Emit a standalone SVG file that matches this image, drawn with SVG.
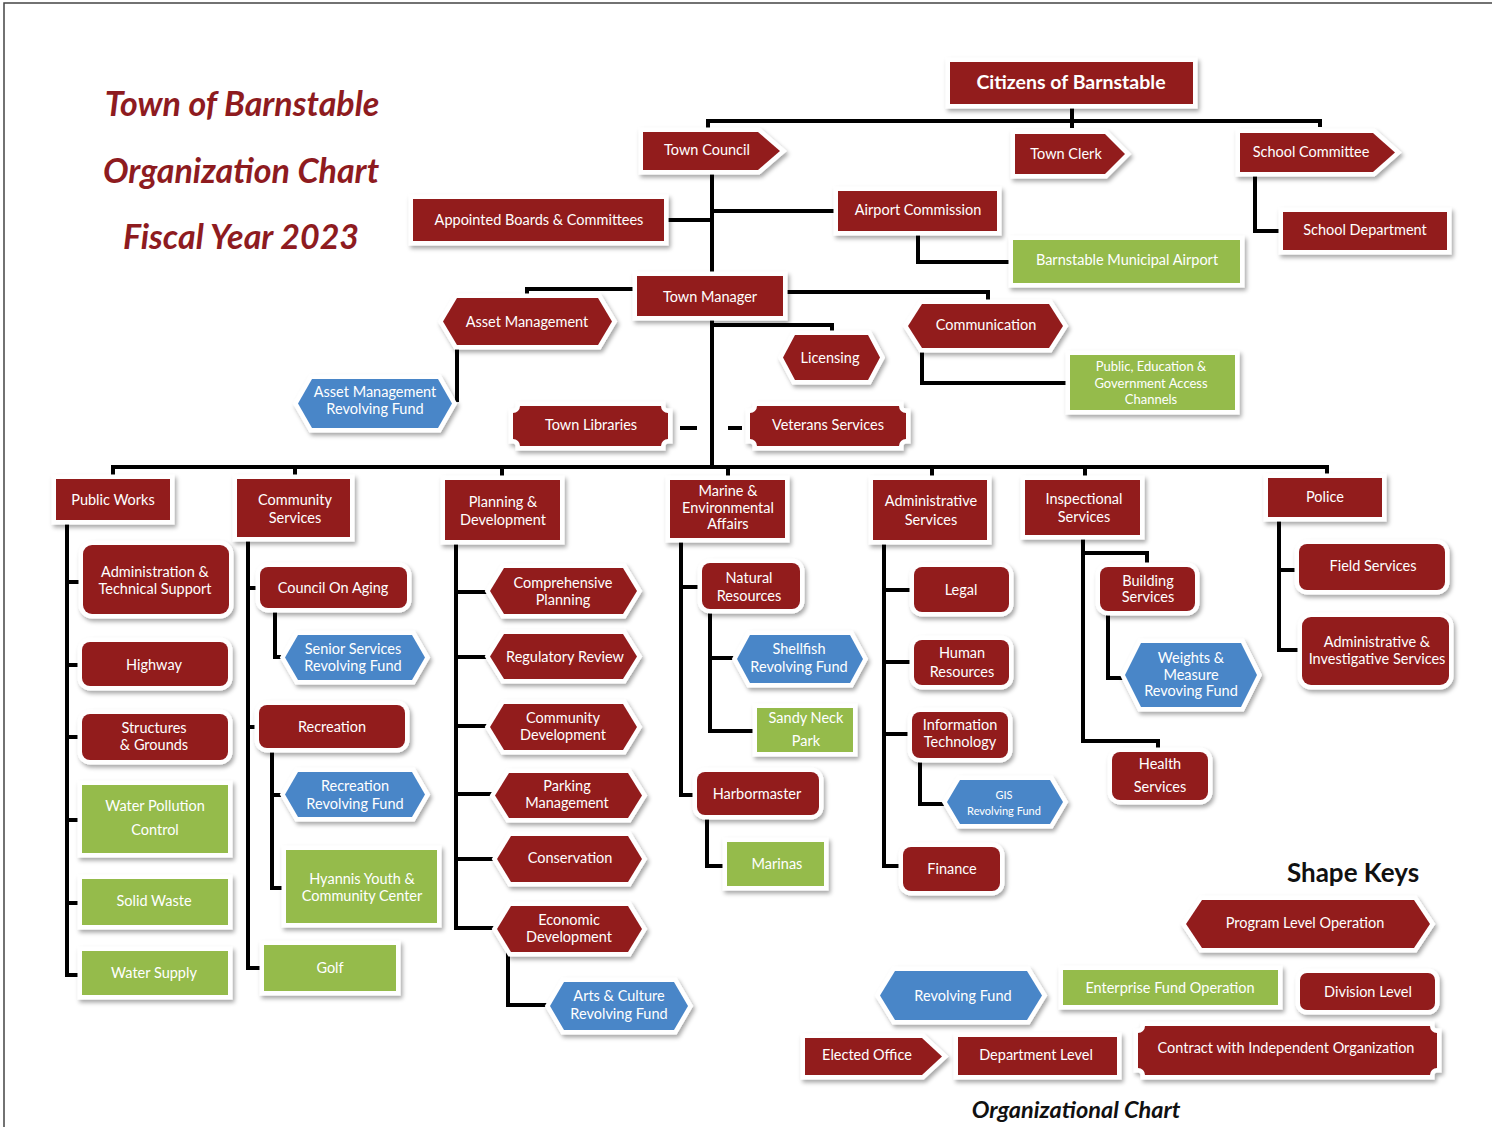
<svg xmlns="http://www.w3.org/2000/svg" width="1492" height="1127" viewBox="0 0 1492 1127">
<defs>
<filter id="sh" x="-10%" y="-20%" width="130%" height="160%">
<feDropShadow dx="2" dy="3" stdDeviation="2.2" flood-color="#000" flood-opacity="0.35"/>
</filter>
<style>
.n{stroke:#fff;stroke-width:9;paint-order:stroke;filter:url(#sh);stroke-linejoin:miter}
.r{fill:#921c1f}
.g{fill:#95bb4b}
.b{fill:#4a86c8}
.t{font-family:Lato,"Open Sans",sans-serif;font-size:14.5px;fill:#fff;text-anchor:middle}
.s{font-size:13px}
.c{fill:none;stroke:#000;stroke-width:4;stroke-linejoin:miter;stroke-linecap:butt}
.ti{font-family:Lato,"Liberation Sans",sans-serif;font-weight:bold;font-style:italic;font-size:34px;fill:#8e1b1f;text-anchor:middle}
</style>
</defs>
<rect width="1492" height="1127" fill="#fff"/>
<path d="M4,1127 V3 H1492" fill="none" stroke="#444" stroke-width="1.5"/>

<g id="title">
<text class="ti" x="242" y="116">Town of Barnstable</text>
<text class="ti" x="241" y="183">Organization Chart</text>
<text class="ti" x="241" y="249">Fiscal Year 2023</text>
</g>

<g id="connectors">
<path class="c" d="M1072,104 V128 M708,131 V121 H1320 V127"/>
<path class="c" d="M1255,172 V231 H1283"/>
<path class="c" d="M712,170 V276 M668,220 H712 M712,211 H838"/>
<path class="c" d="M918,231 V262 H1013"/>
<path class="c" d="M637,289 H527 V298"/>
<path class="c" d="M457,347 V402"/>
<path class="c" d="M783,292 H988 V303"/>
<path class="c" d="M712,325 H832 V335"/>
<path class="c" d="M712,316 V467"/>
<path class="c" d="M922,348 V383 H1070"/>
<path class="c" d="M680,428 H697 M728,428 H742"/>
<path class="c" d="M113,479 V467 H1327 V479 M295,467 V479 M502,467 V480 M728,467 V480 M932,467 V480 M1085,467 V480"/>
<path class="c" d="M67,520 V975 H82 M67,582 H83 M67,665 H82 M67,737 H82 M67,820 H82 M67,903 H82"/>
<path class="c" d="M248,537 V968 H264 M248,588 H260 M248,727 H259"/>
<path class="c" d="M275,608 V657 H287 M272,748 V888 H286 M272,795 H287"/>
<path class="c" d="M456,540 V928 H497 M456,592 H490 M456,657 H490 M456,726 H490 M456,794 H495 M456,859 H497"/>
<path class="c" d="M508,952 V1005 H550"/>
<path class="c" d="M681,538 V795 H697 M681,587 H702 M710,609 V731 H757 M710,658 H737"/>
<path class="c" d="M707,815 V866 H727"/>
<path class="c" d="M884,540 V866 H903 M884,590 H914 M884,662 H914 M884,734 H912"/>
<path class="c" d="M920,758 V804 H947"/>
<path class="c" d="M1083,535 V741 H1158 V752 M1083,553 H1147 V567"/>
<path class="c" d="M1108,611 V678 H1125"/>
<path class="c" d="M1279,517 V650 H1302 M1279,570 H1299"/>
</g>

<g id="citizens"><rect class="n r" x="950" y="62" width="243" height="42"/><text class="t" x="1071" y="89" style="font-size:19.5px;font-weight:bold">Citizens of Barnstable</text></g>
<g id="town-council"><polygon class="n r" points="643,132 758,132 780,151 758,170 643,170"/><text class="t" x="707" y="155">Town Council</text></g>
<g id="town-clerk"><polygon class="n r" points="1015,134 1105,134 1125,154 1105,174 1015,174"/><text class="t" x="1066" y="159">Town Clerk</text></g>
<g id="school-committee"><polygon class="n r" points="1240,133 1373,133 1395,152.5 1373,172 1240,172"/><text class="t" x="1311" y="157">School Committee</text></g>
<g id="school-department"><rect class="n r" x="1283" y="212" width="164" height="38"/><text class="t" x="1365" y="235">School Department</text></g>
<g id="appointed-boards"><rect class="n r" x="413" y="199" width="251" height="42"/><text class="t" x="539" y="225">Appointed Boards &amp; Committees</text></g>
<g id="airport-commission"><rect class="n r" x="838" y="191" width="159" height="40"/><text class="t" x="918" y="215">Airport Commission</text></g>
<g id="municipal-airport"><rect class="n g" x="1013" y="240" width="227" height="43"/><text class="t" x="1127" y="265">Barnstable Municipal Airport</text></g>
<g id="town-manager"><rect class="n r" x="637" y="276" width="146" height="40"/><text class="t" x="710" y="302">Town Manager</text></g>
<g id="asset-management"><polygon class="n r" points="443,321.5 457,298 598,298 612,321.5 598,345 457,345"/><text class="t" x="527" y="327">Asset Management</text></g>
<g id="asset-rf"><polygon class="n b" points="298,403.5 312,379 438,379 452,403.5 438,428 312,428"/><text class="t" x="375" y="397">Asset Management</text><text class="t" x="375" y="414">Revolving Fund</text></g>
<g id="communication"><polygon class="n r" points="908,326 922,304 1049,304 1063,326 1049,348 922,348"/><text class="t" x="986" y="330">Communication</text></g>
<g id="peg-channels"><rect class="n g" x="1070" y="355" width="165" height="55"/><text class="t s" x="1151" y="371">Public, Education &amp;</text><text class="t s" x="1151" y="388">Government Access</text><text class="t s" x="1151" y="404">Channels</text></g>
<g id="licensing"><polygon class="n r" points="783,357.5 795,335 868,335 880,357.5 868,380 795,380"/><text class="t" x="830" y="363">Licensing</text></g>
<g id="town-libraries"><path class="n r" d="M520,406 H661 A7,7 0 0 0 668,413 V439 A7,7 0 0 0 661,446 H520 A7,7 0 0 0 513,439 V413 A7,7 0 0 0 520,406 Z"/><text class="t" x="591" y="430">Town Libraries</text></g>
<g id="veterans-services"><path class="n r" d="M757,406 H899 A7,7 0 0 0 906,413 V439 A7,7 0 0 0 899,446 H757 A7,7 0 0 0 750,439 V413 A7,7 0 0 0 757,406 Z"/><text class="t" x="828" y="430">Veterans Services</text></g>

<g id="public-works"><rect class="n r" x="56" y="479" width="114" height="41"/><text class="t" x="113" y="505">Public Works</text></g>
<g id="community-services"><rect class="n r" x="237" y="479" width="113" height="58"/><text class="t" x="295" y="505">Community</text><text class="t" x="295" y="523">Services</text></g>
<g id="planning-development"><rect class="n r" x="445" y="480" width="115" height="60"/><text class="t" x="503" y="507">Planning &amp;</text><text class="t" x="503" y="525">Development</text></g>
<g id="marine-environmental"><rect class="n r" x="670" y="480" width="115" height="58"/><text class="t" x="728" y="496">Marine &amp;</text><text class="t" x="728" y="513">Environmental</text><text class="t" x="728" y="529">Affairs</text></g>
<g id="administrative-services"><rect class="n r" x="873" y="480" width="114" height="60"/><text class="t" x="931" y="506">Administrative</text><text class="t" x="931" y="525">Services</text></g>
<g id="inspectional-services"><rect class="n r" x="1025" y="480" width="115" height="55"/><text class="t" x="1084" y="504">Inspectional</text><text class="t" x="1084" y="522">Services</text></g>
<g id="police"><rect class="n r" x="1268" y="478" width="114" height="39"/><text class="t" x="1325" y="502">Police</text></g>

<g id="admin-technical"><rect class="n r" x="83" y="545" width="146" height="69" rx="9"/><text class="t" x="155" y="577">Administration &amp;</text><text class="t" x="155" y="594">Technical Support</text></g>
<g id="highway"><rect class="n r" x="82" y="642" width="146" height="44" rx="8"/><text class="t" x="154" y="670">Highway</text></g>
<g id="structures-grounds"><rect class="n r" x="82" y="714" width="146" height="46" rx="8"/><text class="t" x="154" y="733">Structures</text><text class="t" x="154" y="750">&amp; Grounds</text></g>
<g id="water-pollution"><rect class="n g" x="82" y="785" width="146" height="68"/><text class="t" x="155" y="811">Water Pollution</text><text class="t" x="155" y="835">Control</text></g>
<g id="solid-waste"><rect class="n g" x="82" y="879" width="146" height="46"/><text class="t" x="154" y="906">Solid Waste</text></g>
<g id="water-supply"><rect class="n g" x="82" y="951" width="146" height="44"/><text class="t" x="154" y="978">Water Supply</text></g>

<g id="council-on-aging"><rect class="n r" x="260" y="567" width="147" height="41" rx="8"/><text class="t" x="333" y="593">Council On Aging</text></g>
<g id="senior-rf"><polygon class="n b" points="285,657.5 298,635 412,635 425,657.5 412,680 298,680"/><text class="t" x="353" y="654">Senior Services</text><text class="t" x="353" y="671">Revolving Fund</text></g>
<g id="recreation"><rect class="n r" x="259" y="705" width="146" height="43" rx="8"/><text class="t" x="332" y="732">Recreation</text></g>
<g id="recreation-rf"><polygon class="n b" points="285,794.5 298,772 412,772 425,794.5 412,817 298,817"/><text class="t" x="355" y="791">Recreation</text><text class="t" x="355" y="809">Revolving Fund</text></g>
<g id="hyannis-youth"><rect class="n g" x="286" y="850" width="151" height="73"/><text class="t" x="362" y="884">Hyannis Youth &amp;</text><text class="t" x="362" y="901">Community Center</text></g>
<g id="golf"><rect class="n g" x="264" y="945" width="132" height="46"/><text class="t" x="330" y="973">Golf</text></g>

<g id="comprehensive-planning"><polygon class="n r" points="490,591 504,568 623,568 637,591 623,614 504,614"/><text class="t" x="563" y="588">Comprehensive</text><text class="t" x="563" y="605">Planning</text></g>
<g id="regulatory-review"><polygon class="n r" points="490,656.5 504,634 623,634 637,656.5 623,679 504,679"/><text class="t" x="565" y="662">Regulatory Review</text></g>
<g id="community-development"><polygon class="n r" points="490,727 504,704 623,704 637,727 623,750 504,750"/><text class="t" x="563" y="723">Community</text><text class="t" x="563" y="740">Development</text></g>
<g id="parking-management"><polygon class="n r" points="495,795.5 509,773 628,773 642,795.5 628,818 509,818"/><text class="t" x="567" y="791">Parking</text><text class="t" x="567" y="808">Management</text></g>
<g id="conservation"><polygon class="n r" points="497,859 511,836 628,836 642,859 628,882 511,882"/><text class="t" x="570" y="863">Conservation</text></g>
<g id="economic-development"><polygon class="n r" points="497,929 511,906 628,906 642,929 628,952 511,952"/><text class="t" x="569" y="925">Economic</text><text class="t" x="569" y="942">Development</text></g>
<g id="arts-culture-rf"><polygon class="n b" points="550,1006 564,982 674,982 688,1006 674,1030 564,1030"/><text class="t" x="619" y="1001">Arts &amp; Culture</text><text class="t" x="619" y="1019">Revolving Fund</text></g>

<g id="natural-resources"><rect class="n r" x="702" y="563" width="98" height="46" rx="8"/><text class="t" x="749" y="583">Natural</text><text class="t" x="749" y="601">Resources</text></g>
<g id="shellfish-rf"><polygon class="n b" points="737,659 750,635 850,635 863,659 850,683 750,683"/><text class="t" x="799" y="654">Shellfish</text><text class="t" x="799" y="672">Revolving Fund</text></g>
<g id="sandy-neck"><rect class="n g" x="757" y="708" width="96" height="44"/><text class="t" x="806" y="723">Sandy Neck</text><text class="t" x="806" y="746">Park</text></g>
<g id="harbormaster"><rect class="n r" x="697" y="772" width="122" height="43" rx="8"/><text class="t" x="757" y="799">Harbormaster</text></g>
<g id="marinas"><rect class="n g" x="727" y="842" width="97" height="44"/><text class="t" x="777" y="869">Marinas</text></g>

<g id="legal"><rect class="n r" x="914" y="567" width="95" height="45" rx="8"/><text class="t" x="961" y="595">Legal</text></g>
<g id="human-resources"><rect class="n r" x="914" y="640" width="95" height="45" rx="8"/><text class="t" x="962" y="658">Human</text><text class="t" x="962" y="677">Resources</text></g>
<g id="information-technology"><rect class="n r" x="912" y="712" width="96" height="46" rx="8"/><text class="t" x="960" y="730">Information</text><text class="t" x="960" y="747">Technology</text></g>
<g id="gis-rf"><polygon class="n b" points="947,802 960,780 1050,780 1063,802 1050,824 960,824"/><text class="t" x="1004" y="799" style="font-size:11px">GIS</text><text class="t" x="1004" y="815" style="font-size:11px">Revolving  Fund</text></g>
<g id="finance"><rect class="n r" x="903" y="847" width="97" height="44" rx="8"/><text class="t" x="952" y="874">Finance</text></g>

<g id="building-services"><rect class="n r" x="1100" y="567" width="95" height="44" rx="8"/><text class="t" x="1148" y="586">Building</text><text class="t" x="1148" y="602">Services</text></g>
<g id="weights-measure-rf"><polygon class="n b" points="1125,675 1141,643 1241,643 1257,675 1241,707 1141,707"/><text class="t" x="1191" y="663">Weights &amp;</text><text class="t" x="1191" y="680">Measure</text><text class="t" x="1191" y="696">Revoving Fund</text></g>
<g id="health-services"><rect class="n r" x="1112" y="752" width="96" height="48" rx="8"/><text class="t" x="1160" y="769">Health</text><text class="t" x="1160" y="792">Services</text></g>

<g id="field-services"><rect class="n r" x="1299" y="544" width="146" height="46" rx="8"/><text class="t" x="1373" y="571">Field Services</text></g>
<g id="admin-investigative"><rect class="n r" x="1302" y="617" width="147" height="68" rx="9"/><text class="t" x="1377" y="647">Administrative &amp;</text><text class="t" x="1377" y="664">Investigative Services</text></g>

<g id="legend">
<text x="1353" y="882" style="font-family:Lato,'Liberation Sans',sans-serif;font-weight:bold;font-size:26px;fill:#111;text-anchor:middle">Shape Keys</text>
<g id="key-program"><polygon class="n r" points="1186,924 1202,900 1414,900 1430,924 1414,948 1202,948"/><text class="t" x="1305" y="928">Program Level Operation</text></g>
<g id="key-revolving"><polygon class="n b" points="880,995.5 895,971 1027,971 1042,995.5 1027,1020 895,1020"/><text class="t" x="963" y="1001">Revolving Fund</text></g>
<g id="key-enterprise"><rect class="n g" x="1063" y="970" width="215" height="35"/><text class="t" x="1170" y="993">Enterprise Fund Operation</text></g>
<g id="key-division"><rect class="n r" x="1300" y="973" width="135" height="37" rx="7"/><text class="t" x="1368" y="997">Division Level</text></g>
<g id="key-elected"><polygon class="n r" points="805,1038 922,1038 942,1056.5 922,1075 805,1075"/><text class="t" x="867" y="1060">Elected Office</text></g>
<g id="key-department"><rect class="n r" x="958" y="1037" width="159" height="38"/><text class="t" x="1036" y="1060">Department Level</text></g>
<g id="key-contract"><path class="n r" d="M1145,1026 H1430 A7,7 0 0 0 1437,1033 V1068 A7,7 0 0 0 1430,1075 H1145 A7,7 0 0 0 1138,1068 V1033 A7,7 0 0 0 1145,1026 Z"/><text class="t" x="1286" y="1053">Contract with Independent Organization</text></g>
<text x="1076" y="1118" style="font-family:Lato,'Liberation Sans',sans-serif;font-weight:bold;font-style:italic;font-size:23.5px;fill:#111;text-anchor:middle">Organizational Chart</text>
</g>
</svg>
